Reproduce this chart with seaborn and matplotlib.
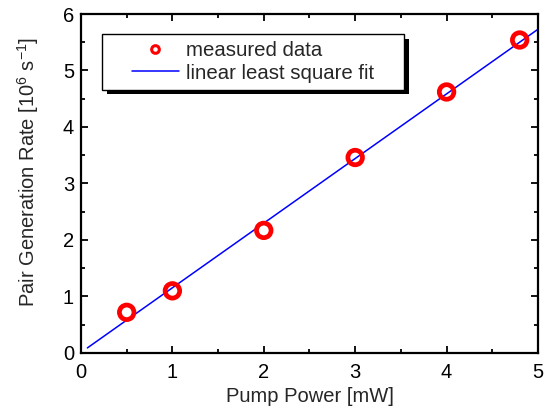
import matplotlib
matplotlib.use("Agg")
import matplotlib.pyplot as plt
import seaborn as sns
import pandas as pd
from matplotlib.ticker import MultipleLocator
from matplotlib.lines import Line2D
from matplotlib.legend_handler import HandlerLine2D
from matplotlib.patches import Rectangle
from matplotlib.transforms import ScaledTranslation

pump_power = [0.5, 1.0, 2.0, 3.0, 4.0, 4.8]
pair_rate = [0.72, 1.10, 2.17, 3.46, 4.62, 5.54]
fit_x = [0.07, 5.0]
fit_y = [0.09, 5.73]
x_ticks = [0, 1, 2, 3, 4, 5]
y_ticks = [0, 1, 2, 3, 4, 5, 6]

sns.set_theme(style="ticks")
plt.rcParams['font.family'] = ['Liberation Sans', 'DejaVu Sans']
plt.rcParams['mathtext.fontset'] = 'custom'
plt.rcParams['mathtext.rm'] = 'Liberation Sans'
plt.rcParams['mathtext.it'] = 'Liberation Sans:italic'
plt.rcParams['mathtext.bf'] = 'Liberation Sans:bold'

df = pd.DataFrame({"x": pump_power, "y": pair_rate})
fit = pd.DataFrame({"x": fit_x, "y": fit_y})

fig = plt.figure(figsize=(5.45, 4.13), dpi=100)
ax = fig.add_axes([0.1486, 0.1453, 0.8385, 0.8208])

sns.lineplot(data=fit, x="x", y="y", ax=ax, color="blue", linewidth=1.1,
             legend=False, zorder=2)
sns.scatterplot(data=df, x="x", y="y", ax=ax, marker="o", s=110,
                facecolor="none", edgecolor="red", linewidth=3.4,
                legend=False, zorder=3)

ax.set_xlim(0, 5)
ax.set_ylim(0, 6)
ax.set_xticks(x_ticks)
ax.set_yticks(y_ticks)
ax.xaxis.set_minor_locator(MultipleLocator(0.5))
ax.yaxis.set_minor_locator(MultipleLocator(0.5))
ax.tick_params(which="both", direction="in", top=True, right=True,
               labelsize=14.5, colors="black", width=1.3)
ax.tick_params(which="major", length=5)
ax.tick_params(axis="x", which="major", pad=7)
ax.tick_params(axis="y", which="major", pad=5)
ax.tick_params(which="minor", length=3)
for s in ax.spines.values():
    s.set_linewidth(1.6)
    s.set_color("black")

ax.set_xlabel("Pump Power [mW]", fontsize=14.5, labelpad=4)
ax.set_ylabel("Pair Generation Rate [10$^6$ s$^{-1}$]", fontsize=14.5)
ax.yaxis.set_label_coords(-0.088, 0.535)

h_meas = Line2D([], [], linestyle="none", marker="o", markersize=5.5,
                markerfacecolor="none", markeredgecolor="red", markeredgewidth=2.2)
h_fit = Line2D([], [], color="blue", linewidth=1.1)
leg = ax.legend([h_meas, h_fit], ["measured data", "linear least square fit"],
                loc="upper left", bbox_to_anchor=(0.046, 0.749, 0.661, 0.192),
                mode="expand",
                handler_map={Line2D: HandlerLine2D(xpad=1.13)},
                frameon=True, fancybox=False, edgecolor="black",
                fontsize=14.7, handlelength=3.4, borderpad=0.35,
                labelspacing=0.17, handletextpad=0.35, borderaxespad=0)
leg.get_frame().set_linewidth(1.0)
leg.get_frame().set_alpha(1.0)
leg.set_zorder(5)

fig.canvas.draw()
bb = leg.get_frame().get_window_extent().transformed(ax.transAxes.inverted())
shadow = Rectangle((bb.x0, bb.y0), bb.width, bb.height,
                   transform=ax.transAxes + ScaledTranslation(4.5 / 100, -4.5 / 100, fig.dpi_scale_trans),
                   facecolor="black", edgecolor="none", zorder=4)
ax.add_patch(shadow)

fig.savefig("out.png", dpi=100)
